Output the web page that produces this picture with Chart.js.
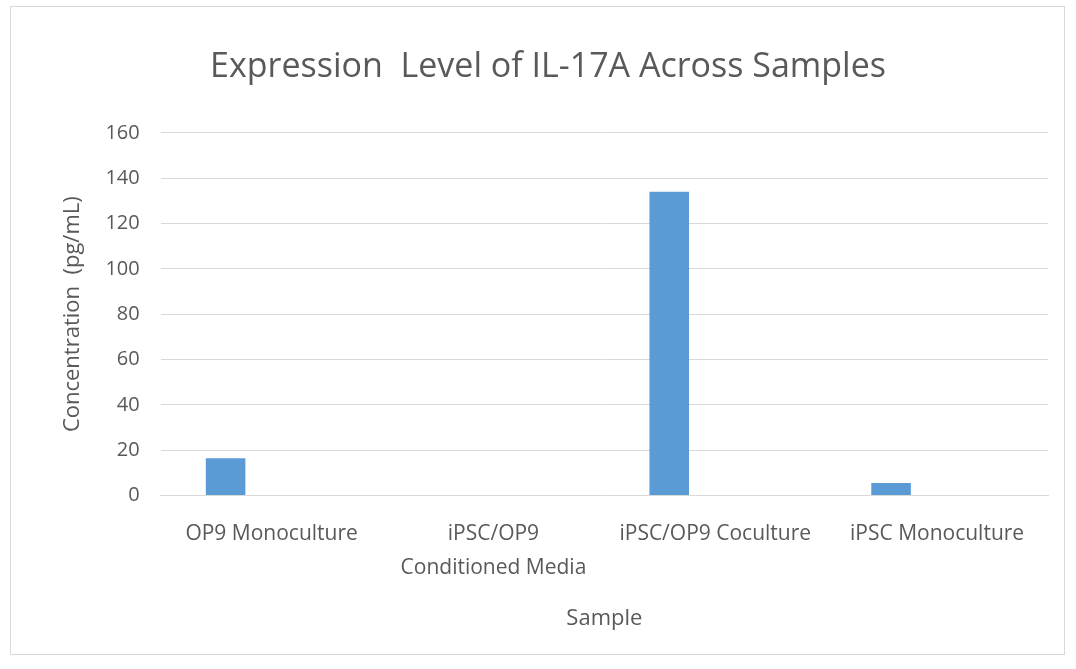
<!DOCTYPE html>
<html>
<head>
<meta charset="utf-8">
<script src="https://cdn.jsdelivr.net/npm/chart.js@4.4.1/dist/chart.umd.min.js"></script>
<style>
    body { margin: 0; background: #fff; }
    #box {
        position: absolute;
        left: 10px; top: 6px;
        width: 1053px; height: 647px;
        border: 1px solid #d9d9d9;
    }
</style>
</head>
<body>
<div id="box"><canvas id="chart"></canvas></div>
<script>
// data
const samples = ['OP9 Monoculture', ['iPSC/OP9', 'Conditioned Media'], 'iPSC/OP9 Coculture', 'iPSC Monoculture']
const il17a = [16.5, 0, 134, 5.5]
const emptySeries = [null, null, null, null]
const yTicks = [0, 20, 40, 60, 80, 100, 120, 140, 160]

const grey = '#595959'
const gridGrey = '#d9d9d9'
const fontName = "'Open Sans', sans-serif"

let ctx = document.getElementById('chart')
let myChart = new Chart(ctx, {
    type: 'bar',
    data: {
        labels: samples,
        datasets: [{
            label: 'IL-17A',
            data: il17a,
            backgroundColor: '#5b9bd5',
            borderWidth: 0
        }, {
            label: '',
            data: emptySeries,
            backgroundColor: '#ed7d31'
        }]
    },
    options: {
        responsive: true,
        maintainAspectRatio: false,
        animation: false,
        categoryPercentage: 0.83,
        barPercentage: 0.43,
        layout: {
            padding: { top: 0, right: 16, bottom: 22, left: 37 }
        },
        plugins: {
            legend: { display: false },
            tooltip: { enabled: false },
            title: {
                display: true,
                text: 'Expression  Level of IL-17A Across Samples',
                color: grey,
                font: { family: fontName, size: 34, weight: 'normal' },
                padding: { top: 40, bottom: 45 }
            }
        },
        scales: {
            x: {
                grid: { display: false, drawTicks: false },
                border: { display: true, color: gridGrey, width: 1 },
                ticks: {
                    color: grey,
                    maxRotation: 0,
                    autoSkip: false,
                    padding: 21,
                    font: { family: fontName, size: 21, lineHeight: 1.62 }
                },
                title: {
                    display: true,
                    text: 'Sample',
                    color: grey,
                    font: { family: fontName, size: 22 },
                    padding: { top: 0, bottom: 0 }
                }
            },
            y: {
                min: 0,
                max: 160,
                afterBuildTicks: function (axis) {
                    axis.ticks = yTicks.map(v => ({ value: v }))
                },
                grid: { color: gridGrey, drawTicks: false },
                border: { display: false },
                ticks: {
                    color: grey,
                    padding: 21,
                    font: { family: fontName, size: 20 }
                },
                title: {
                    display: true,
                    text: 'Concentration  (pg/mL)',
                    color: grey,
                    font: { family: fontName, size: 22 },
                    padding: { top: 12, bottom: -2 }
                }
            }
        }
    }
})
</script>
</body>
</html>
